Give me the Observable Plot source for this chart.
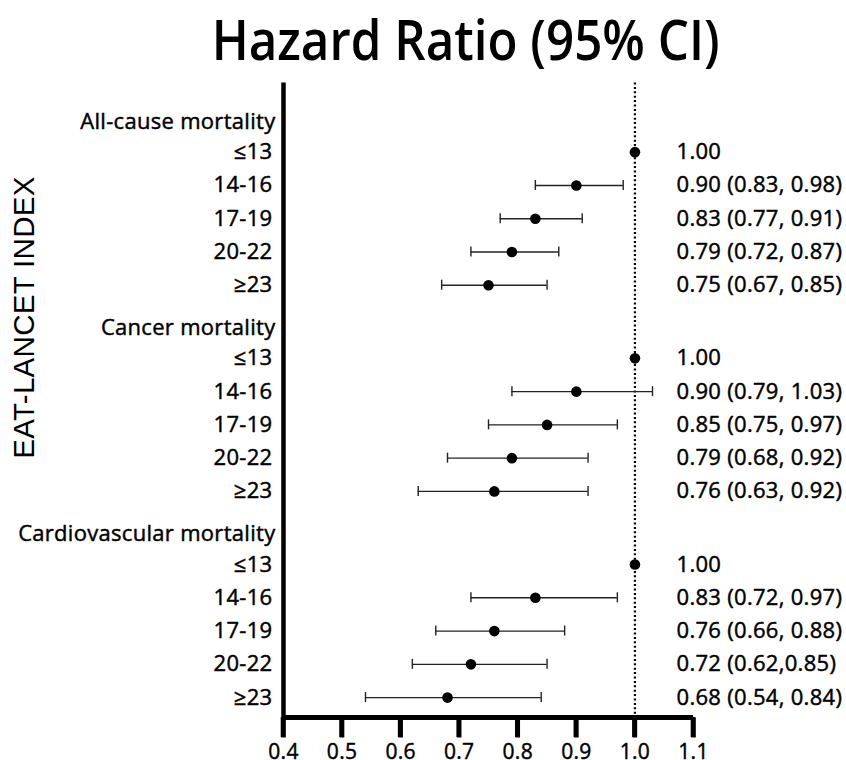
<!DOCTYPE html>
<html>
<head>
<meta charset="utf-8">
<script src="https://cdn.jsdelivr.net/npm/d3@7"></script>
<script src="https://cdn.jsdelivr.net/npm/@observablehq/plot@0.6"></script>
<style>
  html, body { margin: 0; padding: 0; background: #fff; }
  #wrap { width: 846px; height: 760px; position: relative; overflow: hidden; }
  #title { position: absolute; left: 86px; width: 760px; top: -2px; height: 80px; text-align: center;
           font-family: "Open Sans", sans-serif; font-weight: 600; font-size: 56px; line-height: 80px; color: #000; white-space: nowrap; }
  #title span { display: inline-block; transform: scaleX(0.88); transform-origin: center; }
  #chart { position: absolute; left: 0; top: 80px; }
  #chart text { letter-spacing: 0.3px; }
</style>
</head>
<body>
<div id="wrap">
  <div id="title"><span>Hazard Ratio (95% CI)</span></div>
  <div id="chart"></div>
</div>
<script>
const groups = ["All-cause mortality", "Cancer mortality", "Cardiovascular mortality"];
const levels = ["≤13", "14-16", "17-19", "20-22", "≥23"];

const hrAll = [1.00, 0.90, 0.83, 0.79, 0.75];
const loAll = [null, 0.83, 0.77, 0.72, 0.67];
const hiAll = [null, 0.98, 0.91, 0.87, 0.85];
const txtAll = ["1.00", "0.90 (0.83, 0.98)", "0.83 (0.77, 0.91)", "0.79 (0.72, 0.87)", "0.75 (0.67, 0.85)"];

const hrCancer = [1.00, 0.90, 0.85, 0.79, 0.76];
const loCancer = [null, 0.79, 0.75, 0.68, 0.63];
const hiCancer = [null, 1.03, 0.97, 0.92, 0.92];
const txtCancer = ["1.00", "0.90 (0.79, 1.03)", "0.85 (0.75, 0.97)", "0.79 (0.68, 0.92)", "0.76 (0.63, 0.92)"];

const hrCvd = [1.00, 0.83, 0.76, 0.72, 0.68];
const loCvd = [null, 0.72, 0.66, 0.62, 0.54];
const hiCvd = [null, 0.97, 0.88, 0.85, 0.84];
const txtCvd = ["1.00", "0.83 (0.72, 0.97)", "0.76 (0.66, 0.88)", "0.72 (0.62,0.85)", "0.68 (0.54, 0.84)"];

const xTicks = [0.4, 0.5, 0.6, 0.7, 0.8, 0.9, 1.0, 1.1];
const yLabel = "EAT-LANCET INDEX";

// layout of rows (index units along y)
const GROUP_STEP = 6.2, FIRST_OFFSET = 0.92;
const Y_TOP = -1.175, Y_AXIS = 17.92, Y_FRAME = 18.52;

const series = [
  [hrAll, loAll, hiAll, txtAll],
  [hrCancer, loCancer, hiCancer, txtCancer],
  [hrCvd, loCvd, hiCvd, txtCvd]
];

const headers = groups.map((g, gi) => ({text: g, pos: gi * GROUP_STEP}));
const rows = [];
series.forEach(([hr, lo, hi, txt], gi) => {
  levels.forEach((lv, i) => {
    rows.push({group: groups[gi], level: lv, hr: hr[i], lo: lo[i], hi: hi[i], label: txt[i],
               pos: gi * GROUP_STEP + FIRST_OFFSET + i});
  });
});
const ci = rows.filter(d => d.lo != null);
const ticks = xTicks.map(v => ({v, y1: Y_AXIS, y2: Y_FRAME, label: d3.format(".1f")(v)}));
const axesV = [{v: 0.4, y1: Y_TOP, y2: Y_AXIS}];
const refLine = [{v: 1.0, y1: Y_TOP, y2: Y_AXIS}];
const axisH = [{y: Y_AXIS}];
const txtStyle = {fontSize: 22, fill: "#000", stroke: "#000", strokeWidth: 0.45};

const chart = Plot.plot({
  width: 846,
  height: 680,
  marginTop: 2,
  marginBottom: 23,
  marginLeft: 283,
  marginRight: 153,
  style: {fontFamily: "Open Sans, sans-serif", fontSize: "22px", color: "#000", background: "#fff", overflow: "visible"},
  x: {domain: [0.4, 1.1], axis: null},
  y: {domain: [Y_FRAME, Y_TOP], axis: null},
  marks: [
    Plot.link(refLine, {x1: "v", x2: "v", y1: "y1", y2: "y2", stroke: "#000", strokeWidth: 2.2, strokeDasharray: "2,2.4"}),
    Plot.ruleY(ci, {y: "pos", x1: "lo", x2: "hi", stroke: "#222", strokeWidth: 1.4}),
    Plot.ruleX(ci, {x: "lo", y1: "pos", y2: "pos", insetTop: -5, insetBottom: -5, stroke: "#222", strokeWidth: 1.4}),
    Plot.ruleX(ci, {x: "hi", y1: "pos", y2: "pos", insetTop: -5, insetBottom: -5, stroke: "#222", strokeWidth: 1.4}),
    Plot.dot(rows, {x: "hr", y: "pos", r: 5.3, fill: "#000", stroke: null}),
    Plot.text(headers, {y: "pos", text: "text", frameAnchor: "left", textAnchor: "end", dx: -8, ...txtStyle}),
    Plot.text(rows, {y: "pos", text: "level", frameAnchor: "left", textAnchor: "end", dx: -11, ...txtStyle}),
    Plot.text(rows, {y: "pos", text: "label", frameAnchor: "right", textAnchor: "start", dx: -17, ...txtStyle}),
    Plot.text([yLabel], {frameAnchor: "top-left", dx: -270, dy: 235, rotate: -90,
                         fontFamily: "Liberation Sans, Arial, sans-serif", fontSize: 29.5, textAnchor: "middle", fill: "#000"}),
    Plot.link(axesV, {x1: "v", x2: "v", y1: "y1", y2: "y2", stroke: "#000", strokeWidth: 4.5}),
    Plot.rect(ticks, {x1: "v", x2: "v", y1: "y1", y2: "y2", insetLeft: -2.3, insetRight: -2.3, fill: "#000"}),
    Plot.link(ticks, {x1: "v", x2: "v", y1: "y1", y2: "y2", stroke: "#000", strokeWidth: 4.5}),
    Plot.ruleY(axisH, {y: "y", stroke: "#000", strokeWidth: 5}),
    Plot.text(ticks, {x: "v", text: "label", frameAnchor: "bottom", lineAnchor: "top", dy: 7, ...txtStyle, fontSize: 21})
  ]
});
document.getElementById("chart").appendChild(chart);
</script>
</body>
</html>
